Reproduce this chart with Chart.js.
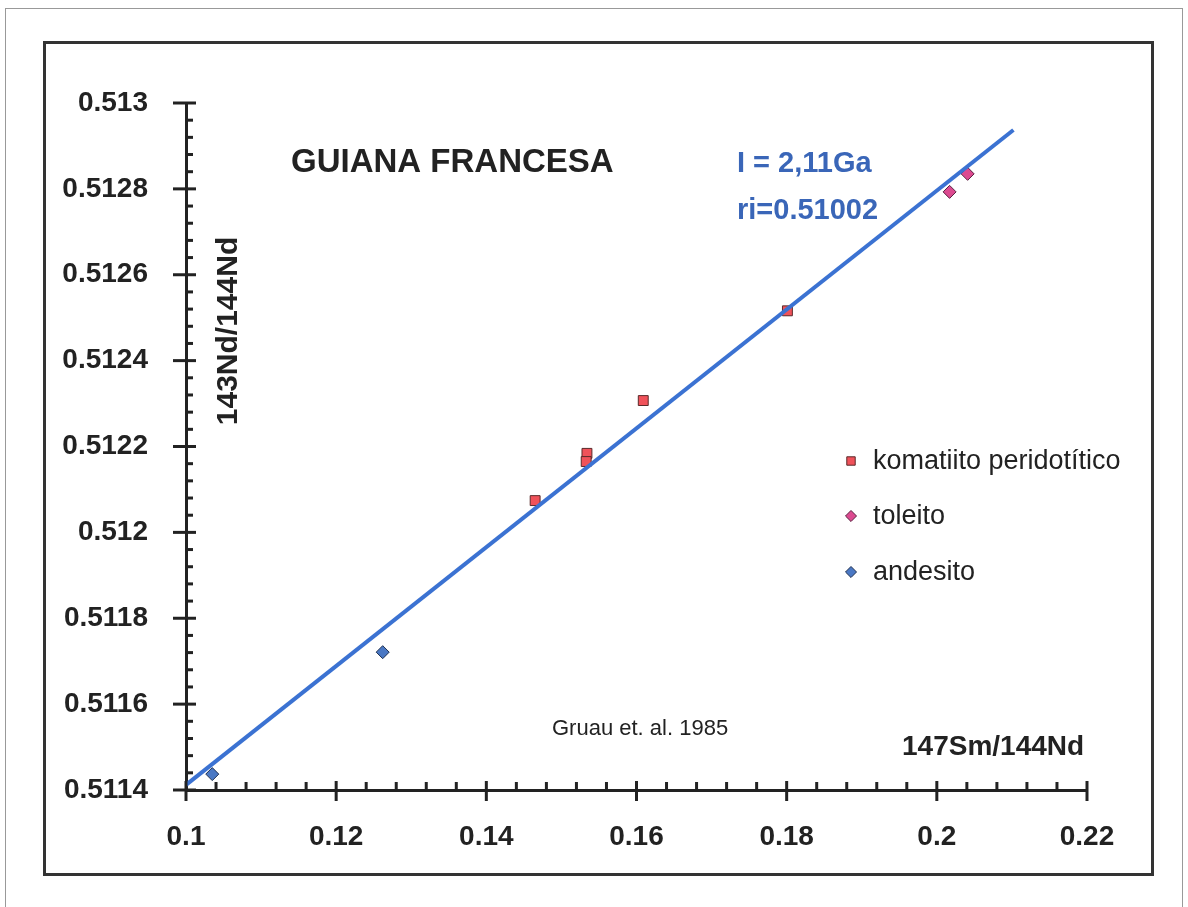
<!DOCTYPE html>
<html>
<head>
<meta charset="utf-8">
<script src="https://cdn.jsdelivr.net/npm/chart.js@4.4.1/dist/chart.umd.min.js"></script>
<style>
  html, body { margin: 0; padding: 0; background: #fff; }
  #wrap { width: 1188px; height: 907px; position: relative; }
</style>
</head>
<body>
<div id="wrap"><canvas id="myChart"></canvas></div>
<script>
// Datos (147Sm/144Nd, 143Nd/144Nd)
const komatiito = [
    { x: 0.1465, y: 0.512074 }, { x: 0.1534, y: 0.512184 }, { x: 0.1533, y: 0.512165 },
    { x: 0.1609, y: 0.512307 }, { x: 0.1801, y: 0.512516 }
];
const toleito = [{ x: 0.2017, y: 0.512793 }, { x: 0.2041, y: 0.512835 }];
const andesito = [{ x: 0.1035, y: 0.511437 }, { x: 0.1262, y: 0.511721 }];
// Isócrona: extremos de la recta
const isocrona = [{ x: 0.1, y: 0.511412 }, { x: 0.2102, y: 0.512937 }];

const ticksX = [0.1, 0.12, 0.14, 0.16, 0.18, 0.2, 0.22];
const ticksY = [0.5114, 0.5116, 0.5118, 0.512, 0.5122, 0.5124, 0.5126, 0.5128, 0.513];

const FONT = "'Liberation Sans', Arial, sans-serif";
const AZUL = '#3b72d2';
const TEXTO = '#222';

function etiqueta(v) {
    return String(parseFloat(v.toFixed(5)));
}

// marcos, ticks mayores/menores, textos y leyenda
const decorado = {
    id: 'decorado',
    beforeDraw(chart) {
        const c = chart.ctx;
        c.save();
        c.fillStyle = '#fff';
        c.fillRect(0, 0, chart.width, chart.height);
        c.strokeStyle = '#999';
        c.lineWidth = 1;
        c.strokeRect(5.5, 8.5, 1177, 920);
        c.strokeStyle = '#333';
        c.lineWidth = 3;
        c.strokeRect(44.5, 42.5, 1108, 832);
        c.restore();
    },
    afterDatasetsDraw(chart) {
        const c = chart.ctx;
        const xs = chart.scales.x, ys = chart.scales.y;
        const area = chart.chartArea;
        c.save();
        c.strokeStyle = TEXTO;
        c.lineWidth = 3;
        // eje X
        for (let i = 0; i < ticksX.length; i++) {
            const px = xs.getPixelForValue(ticksX[i]);
            c.beginPath(); c.moveTo(px, area.bottom - 9); c.lineTo(px, area.bottom + 11); c.stroke();
            if (i < ticksX.length - 1) {
                const paso = (ticksX[i + 1] - ticksX[i]) / 5;
                for (let k = 1; k < 5; k++) {
                    const pm = xs.getPixelForValue(ticksX[i] + paso * k);
                    c.beginPath(); c.moveTo(pm, area.bottom); c.lineTo(pm, area.bottom - 8); c.stroke();
                }
            }
        }
        // eje Y
        for (let i = 0; i < ticksY.length; i++) {
            const py = ys.getPixelForValue(ticksY[i]);
            c.beginPath(); c.moveTo(area.left - 13, py); c.lineTo(area.left + 10, py); c.stroke();
            if (i < ticksY.length - 1) {
                const paso = (ticksY[i + 1] - ticksY[i]) / 5;
                for (let k = 1; k < 5; k++) {
                    const pm = ys.getPixelForValue(ticksY[i] + paso * k);
                    c.beginPath(); c.moveTo(area.left, pm); c.lineTo(area.left + 7, pm); c.stroke();
                }
            }
        }
        c.restore();
    },
    afterDraw(chart) {
        const c = chart.ctx;
        c.save();
        c.fillStyle = TEXTO;
        c.textBaseline = 'alphabetic';
        c.textAlign = 'left';
        c.font = 'bold 33px ' + FONT;
        c.fillText('GUIANA FRANCESA', 291, 172);

        c.fillStyle = '#3a66b8';
        c.font = 'bold 29px ' + FONT;
        c.fillText('I = 2,11Ga', 737, 172);
        c.fillText('ri=0.51002', 737, 219);

        c.fillStyle = TEXTO;
        c.font = 'bold 28px ' + FONT;
        c.fillText('147Sm/144Nd', 902, 755);

        c.font = '22px ' + FONT;
        c.fillText('Gruau et. al. 1985', 552, 735);

        // título eje Y
        c.save();
        c.translate(237, 331);
        c.rotate(-Math.PI / 2);
        c.textAlign = 'center';
        c.font = 'bold 30px ' + FONT;
        c.fillText('143Nd/144Nd', 0, 0);
        c.restore();

        // leyenda
        const filas = [461, 516, 572];
        chart.data.datasets.filter(d => d.enLeyenda).forEach((d, i) => {
            c.fillStyle = d.backgroundColor;
            c.strokeStyle = d.borderColor;
            c.lineWidth = 1;
            Chart.helpers.drawPoint(c, {
                pointStyle: d.pointStyle,
                radius: d.pointRadius * 0.85,
                borderWidth: 1
            }, 851, filas[i]);
            c.fillStyle = TEXTO;
            c.font = '27px ' + FONT;
            c.textBaseline = 'middle';
            c.fillText(d.label, 873, filas[i] + 1);
        });
        c.restore();
    }
};

const ctx = document.getElementById('myChart').getContext('2d');
const chart = new Chart(ctx, {
    type: 'scatter',
    data: {
        datasets: [
            {
                label: 'isócrona', data: isocrona, showLine: true,
                borderColor: AZUL, borderWidth: 4, pointRadius: 0, order: 0, fill: false
            },
            {
                label: 'komatiito peridotítico', data: komatiito, enLeyenda: true,
                pointStyle: 'rect', pointRadius: 7, backgroundColor: '#f0525a',
                borderColor: '#5a2a2a', borderWidth: 1, order: 1
            },
            {
                label: 'toleito', data: toleito, enLeyenda: true,
                pointStyle: 'rectRot', pointRadius: 6.5, backgroundColor: '#dc4a90',
                borderColor: '#5a2040', borderWidth: 1, order: 1
            },
            {
                label: 'andesito', data: andesito, enLeyenda: true,
                pointStyle: 'rectRot', pointRadius: 6.5, backgroundColor: '#4a78c4',
                borderColor: '#1f3050', borderWidth: 1, order: 1
            }
        ]
    },
    options: {
        responsive: true,
        maintainAspectRatio: false,
        animation: false,
        layout: { padding: { left: 0, top: 103, right: 101, bottom: 0 } },
        plugins: { legend: { display: false }, tooltip: { enabled: false } },
        scales: {
            x: {
                type: 'linear', min: 0.1, max: 0.22,
                afterBuildTicks(scale) { scale.ticks = ticksX.map(v => ({ value: v })); },
                afterFit(scale) { scale.height = 117; },
                grid: { display: false, drawTicks: false },
                border: { display: true, color: TEXTO, width: 3 },
                ticks: {
                    padding: 30, color: TEXTO, maxRotation: 0,
                    font: { family: FONT, size: 28, weight: 'bold' },
                    callback: v => etiqueta(v)
                }
            },
            y: {
                type: 'linear', min: 0.5114, max: 0.513,
                afterBuildTicks(scale) { scale.ticks = ticksY.map(v => ({ value: v })); },
                afterFit(scale) { scale.width = 186; },
                grid: { display: false, drawTicks: false },
                border: { display: true, color: TEXTO, width: 3 },
                ticks: {
                    padding: 38, color: TEXTO,
                    font: { family: FONT, size: 28, weight: 'bold' },
                    callback: v => etiqueta(v)
                }
            }
        }
    },
    plugins: [decorado]
});
</script>
</body>
</html>
